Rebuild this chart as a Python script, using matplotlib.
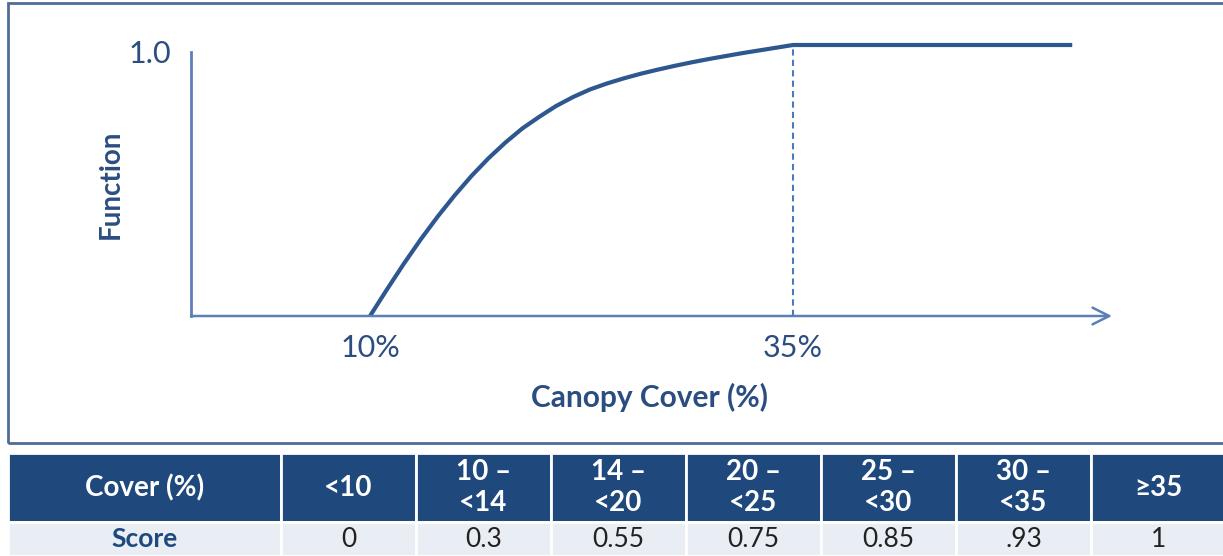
import matplotlib.pyplot as plt
from matplotlib.patches import Rectangle
from matplotlib.transforms import ScaledTranslation


# curve
cover_pct = [10, 11, 12, 13, 14, 15, 16, 17, 18, 19, 20, 21, 22, 23,
             24, 25, 26, 27, 28, 29, 30, 31, 32, 33, 34, 35, 51.5]
function_val = [0.0, 0.098, 0.193, 0.283, 0.367, 0.445, 0.517, 0.582, 0.640, 0.692,
                0.735, 0.775, 0.808, 0.836, 0.858, 0.877, 0.894, 0.909, 0.923, 0.936,
                0.948, 0.959, 0.970, 0.980, 0.990, 1.0, 1.0]
threshold = 35
x_ticks = [10, 35]
x_tick_labels = ['10%', '35%']

# score table
table_header = ['Cover (%)', '<10', '10 \u2013\n<14', '14 \u2013\n<20', '20 \u2013\n<25',
                '25 \u2013\n<30', '30 \u2013\n<35', '\u226535']
table_scores = ['Score', '0', '0.3', '0.55', '0.75', '0.85', '.93', '1']

DARK = '#1f497d'
TEXT = '#2b4d80'
AXIS = '#5b80b6'
CURVE = '#2e5790'

plt.rcParams['font.family'] = ['Lato', 'DejaVu Sans']

fig = plt.figure(figsize=(12.23, 5.56), dpi=100)

# outer frame round the chart
fig.patches.append(Rectangle((8 / 1223, 1 - 443 / 556), 1.1, (443 - 3) / 556,
                             transform=fig.transFigure, fill=False,
                             edgecolor='#4f6d96', lw=2))

ax = fig.add_axes([191 / 1223, 1 - 316 / 556, (1112 - 191) / 1223, (316 - 45) / 556])
ax.set_xlim(-0.58, 53.85)
ax.set_ylim(0, 1.0)

ax.plot(cover_pct, function_val, color=CURVE, lw=3, solid_capstyle='butt',
        solid_joinstyle='round', clip_on=False)
ax.vlines(threshold, 0, max(function_val), colors='#4a7ab8', lw=1.5,
          linestyles=(0, (3, 2)))

for side in ['top', 'right', 'bottom']:
    ax.spines[side].set_visible(False)
ax.spines['left'].set_color(AXIS)
ax.spines['left'].set_linewidth(2)
ax.spines['left'].set_bounds(0, 0.974)

ax.annotate('', xy=(1, 0), xytext=(0, 0), xycoords='axes fraction',
            arrowprops=dict(arrowstyle='->', color=AXIS, lw=1.8,
                            mutation_scale=30, shrinkA=0, shrinkB=0))

ax.set_xticks(x_ticks)
ax.set_xticklabels(x_tick_labels)
ax.set_yticks([1.0])
ax.set_yticklabels(['1.0'])
ax.tick_params(length=0, labelsize=22, labelcolor=TEXT)
ax.tick_params(axis='x', pad=13)
ax.tick_params(axis='y', pad=14)
for lab in ax.get_yticklabels():
    lab.set_transform(lab.get_transform() + ScaledTranslation(0, -0.07, fig.dpi_scale_trans))

ax.set_ylabel('Function', fontsize=20, fontweight='bold', color=TEXT, va='center')
ax.yaxis.set_label_coords(-0.087, 0.487)
ax.set_xlabel('Canopy Cover (%)', fontsize=21.5, fontweight='bold', color=TEXT, va='center')
ax.xaxis.set_label_coords(0.498, -0.299)

# table underneath
tax = fig.add_axes([8 / 1223, 0, (1226 - 8) / 1223, (556 - 453) / 556])
tax.axis('off')
col_w = [273] + [135] * 7
col_w = [w / sum(col_w) for w in col_w]
tbl = tax.table(cellText=[table_header, table_scores], colWidths=col_w,
                cellLoc='center', loc='center', bbox=[0, 0, 1, 1])
tbl.auto_set_font_size(False)
for (r, c), cell in tbl.get_celld().items():
    cell.set_edgecolor('white')
    cell.set_linewidth(2)
    cell.set_height(0.67 if r == 0 else 0.33)
    txt = cell.get_text()
    if r == 0:
        cell.set_facecolor(DARK)
        txt.set_color('white')
        txt.set_fontweight('bold')
        txt.set_fontsize(20)
        txt.set_linespacing(1.2)
    else:
        cell.set_facecolor('#e9edf4')
        if c == 0:
            txt.set_color(DARK)
            txt.set_fontweight('bold')
        else:
            txt.set_color('#222222')
        txt.set_fontsize(19)

fig.savefig('out.png', dpi=100)
